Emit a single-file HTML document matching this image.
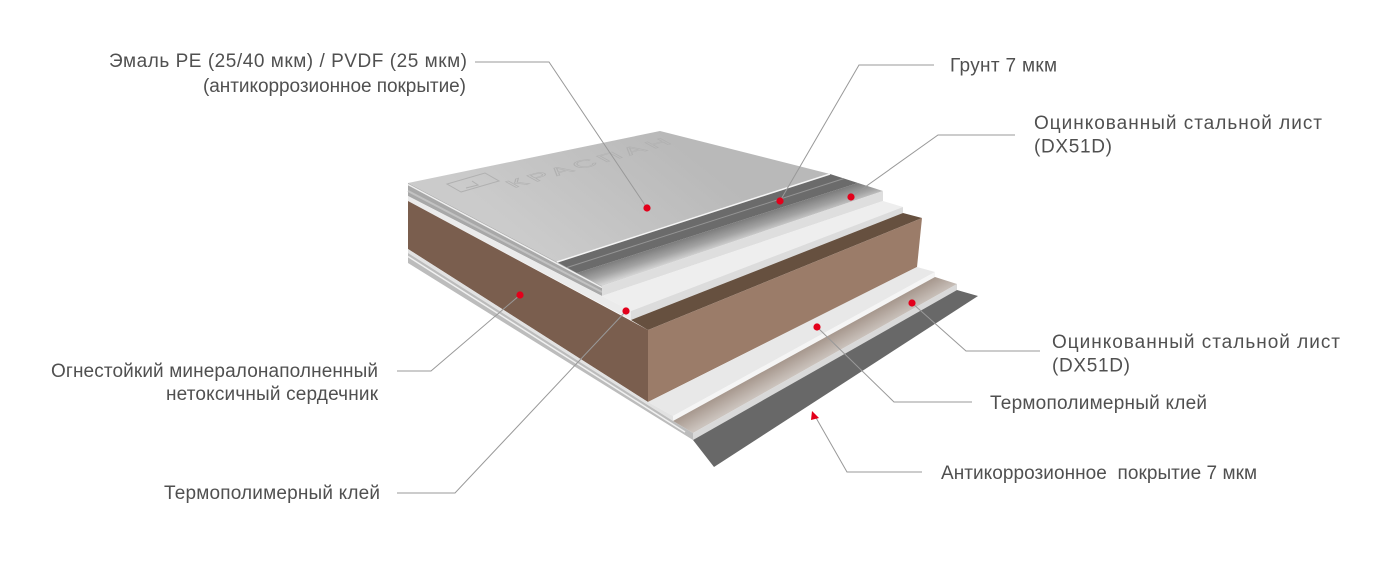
<!DOCTYPE html>
<html><head><meta charset="utf-8">
<style>
html,body{margin:0;padding:0;background:#fff;}
svg{display:block;}
.t{font-family:"Liberation Sans",Arial,sans-serif;font-size:19px;fill:#505050;}
</style></head><body>
<svg width="1398" height="567" viewBox="0 0 1398 567" xmlns="http://www.w3.org/2000/svg">
<defs>
<linearGradient id="en" gradientUnits="userSpaceOnUse" x1="660" y1="131" x2="557" y2="262">
 <stop offset="0" stop-color="#b9b9b9"/><stop offset="1" stop-color="#cbcbcb"/>
</linearGradient>
<linearGradient id="st" gradientUnits="userSpaceOnUse" x1="700" y1="233.6" x2="705.7" y2="251.5">
 <stop offset="0" stop-color="#7c7c7c"/><stop offset="0.55" stop-color="#a3a3a3"/><stop offset="1" stop-color="#d2d2d2"/>
</linearGradient>
<linearGradient id="ls" gradientUnits="userSpaceOnUse" x1="800" y1="351" x2="809" y2="367.4">
 <stop offset="0" stop-color="#a6978d"/><stop offset="1" stop-color="#cbc3bd"/>
</linearGradient>
</defs>
<rect width="1398" height="567" fill="#ffffff"/>

<!-- enamel top -->
<polygon points="408,183 660,131 830,174 557,262" fill="url(#en)"/>
<!-- logo emboss -->
<g fill="none" stroke="#b0b0b0" stroke-width="1">
 <polygon points="461,192 499,181 485,173 447,184"/>
 <polyline points="466,188 478,185 472,181"/>
</g>
<g transform="matrix(0.963,-0.27,0.55,0.3,514,188)">
 <text x="0" y="0" textLength="165" lengthAdjust="spacing" style="font-family:'Liberation Sans',Arial,sans-serif;font-size:28px;fill:none;stroke:#b0b0b0;stroke-width:1.1">КРАСПАН</text>
</g>

<!-- top sheet left face -->
<polygon points="408,183 557,262 602,286 602,296 408,196" fill="#a8a8a8"/>
<line x1="408" y1="184.5" x2="602" y2="287.5" stroke="#efefef" stroke-width="1.5"/>
<line x1="408" y1="191" x2="602" y2="292" stroke="#c2c2c2" stroke-width="2"/>

<!-- primer -->
<polygon points="557,262 830,174 858,183 577,273" fill="#6b6b6b"/>
<line x1="567" y1="267.5" x2="844" y2="178.5" stroke="#959595" stroke-width="1"/>
<!-- steel top surface -->
<polygon points="577,273 858,183 883,191 602,286" fill="url(#st)"/>
<!-- top sheet front face -->
<polygon points="602,286 883,191 883,201 602,296" fill="#dedede"/>
<!-- enamel edge highlight -->
<line x1="557" y1="262" x2="830" y2="174" stroke="#f5f5f5" stroke-width="1.5"/>

<!-- upper adhesive -->
<polygon points="602,296 883,201 903,207 631,311" fill="#eeeeee"/>
<polygon points="631,311 903,207 903,213 631,320" fill="#dcdcdc"/>
<polygon points="408,196 631,311 631,320 408,201" fill="#ebebeb"/>

<!-- brown core -->
<polygon points="631,320 903,213 922,218 648,330" fill="#66503f"/>
<polygon points="648,330 922,218 917,267 648,402" fill="#9b7c69"/>
<polygon points="408,201 648,330 648,402 408,249" fill="#7a5e4e"/>

<!-- lower adhesive -->
<polygon points="648,402 917,267 935,272 673,416" fill="#e8e8e8"/>
<polygon points="673,416 935,272 935,277 673,421" fill="#f5f5f5"/>
<!-- lower steel -->
<polygon points="673,421 935,277 957,284 693,433" fill="url(#ls)"/>
<polygon points="693,433 957,284 957,290 693,440" fill="#d9d9d9"/>
<!-- anticorrosion dark -->
<polygon points="693,440 957,290 978,296 714,467" fill="#686868"/>
<!-- lower left face -->
<polygon points="408,249 648,402 673,416 673,421 408,253" fill="#e2e2e2"/>
<polygon points="408,253 673,421 693,433 693,440 408,263" fill="#bcbcbc"/>
<line x1="408" y1="256.5" x2="685" y2="432" stroke="#f0f0f0" stroke-width="1.5"/>

<!-- leader lines -->
<g fill="none" stroke="#999999" stroke-width="1">
 <polyline points="475,62 549,62 647,208"/>
 <polyline points="934,65 859,65 780,201"/>
 <polyline points="1015,135 938,135 851,197"/>
 <polyline points="397,371 431,371 520,295"/>
 <polyline points="397,493 455,493 626,311"/>
 <polyline points="912,303 966,351 1040,351"/>
 <polyline points="817,327 894,402 972,402"/>
 <polyline points="815,416 847,472 922,472"/>
</g>

<!-- red markers -->
<g fill="#e3001b">
 <circle cx="647" cy="208" r="3.6"/>
 <circle cx="780" cy="201" r="3.6"/>
 <circle cx="851" cy="197" r="3.6"/>
 <circle cx="520" cy="295" r="3.6"/>
 <circle cx="626" cy="311" r="3.6"/>
 <circle cx="817" cy="327" r="3.6"/>
 <circle cx="912" cy="303" r="3.6"/>
 <polygon points="812,411 819,418 811,420"/>
</g>

<!-- labels -->
<text class="t" x="109" y="67" textLength="358" lengthAdjust="spacing">Эмаль PE (25/40 мкм) / PVDF (25 мкм)</text>
<text class="t" x="203" y="92" textLength="263" lengthAdjust="spacing">(антикоррозионное покрытие)</text>
<text class="t" x="950" y="71.5" textLength="107" lengthAdjust="spacing">Грунт 7 мкм</text>
<text class="t" x="1034" y="129" textLength="288" lengthAdjust="spacing">Оцинкованный стальной лист</text>
<text class="t" x="1034" y="152.5" textLength="78" lengthAdjust="spacing">(DX51D)</text>
<text class="t" x="1052" y="348" textLength="288" lengthAdjust="spacing">Оцинкованный стальной лист</text>
<text class="t" x="1052" y="371.5" textLength="78" lengthAdjust="spacing">(DX51D)</text>
<text class="t" x="990" y="409" textLength="217" lengthAdjust="spacing">Термополимерный клей</text>
<text class="t" x="941" y="479" textLength="316" lengthAdjust="spacing" style="white-space:pre">Антикоррозионное  покрытие 7 мкм</text>
<text class="t" x="51" y="377" textLength="327" lengthAdjust="spacing">Огнестойкий минералонаполненный</text>
<text class="t" x="166" y="400" textLength="212" lengthAdjust="spacing">нетоксичный сердечник</text>
<text class="t" x="164" y="499" textLength="216" lengthAdjust="spacing">Термополимерный клей</text>
</svg>
</body></html>
